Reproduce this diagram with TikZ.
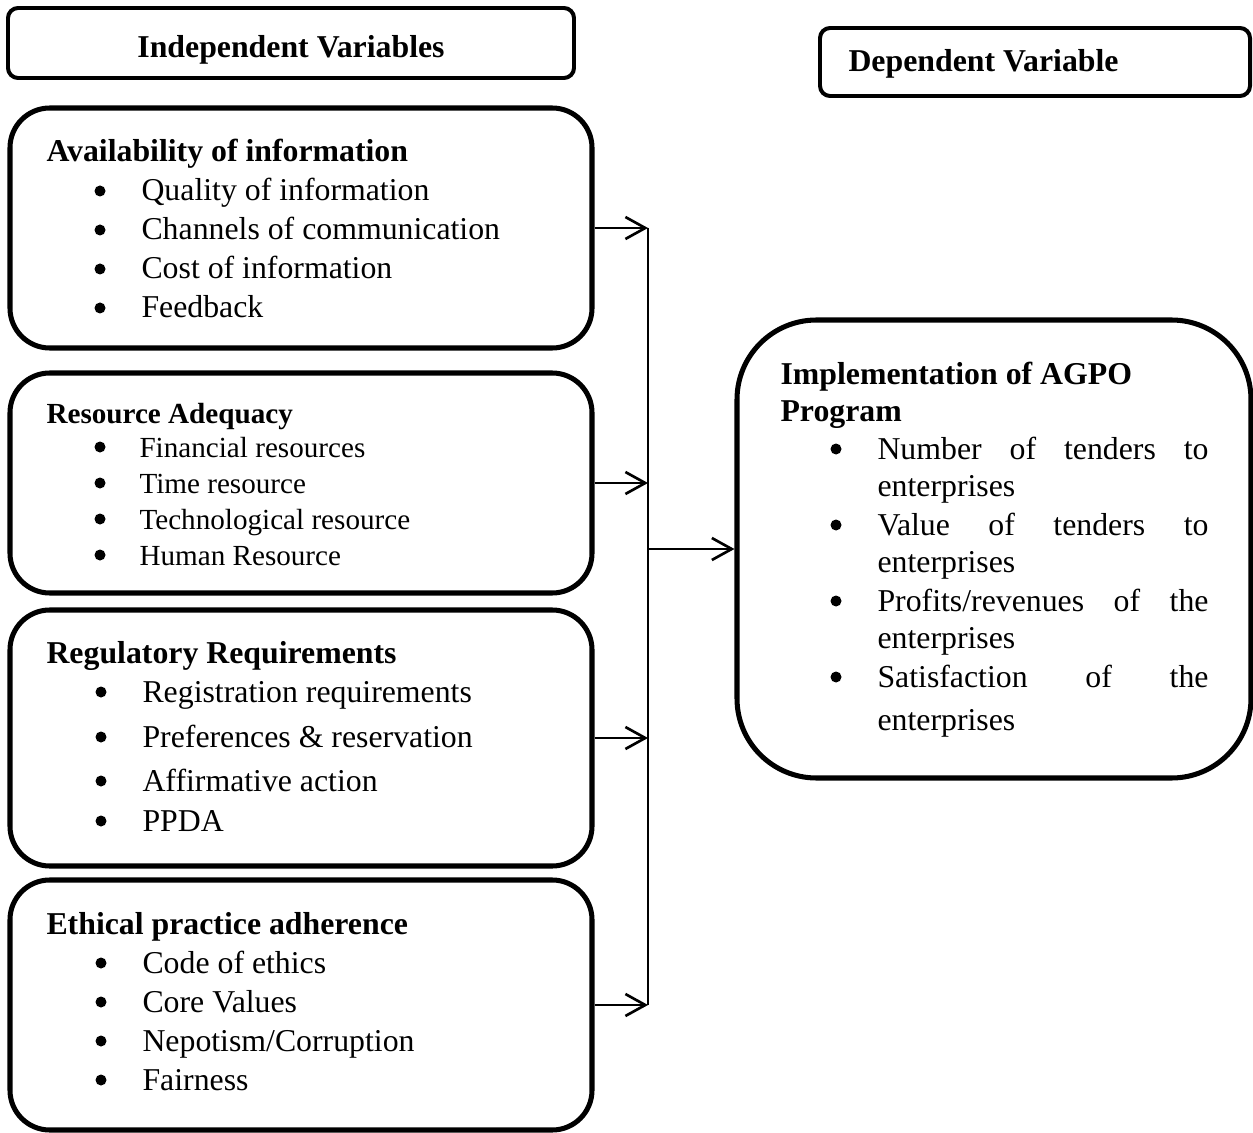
\documentclass[tikz,border=0pt]{standalone}
\usepackage{fontspec}
\setmainfont{Liberation Serif}
\usetikzlibrary{arrows.meta, positioning}

\newlength\px
\setlength\px{0.3774pt}
% bullet + item text at a baseline
\newcommand\bul[5]{%
  \node[dot] (#1b) at (#2,#4-10) {};
  \node[txt] (#1) at (#3,#4) {#5};}

\begin{document}
\begin{tikzpicture}[x=\px, y=-\px, >={Straight Barb[length=7.5pt, width=8.3pt]},
  hdr/.style={draw, line width=1.5pt, rounded corners=3.8pt, inner sep=0pt},
  ivbox/.style={draw, line width=1.9pt, rounded corners=15pt, minimum width=582\px, inner sep=0pt},
  dvbox/.style={draw, line width=1.9pt, rounded corners=30pt, inner sep=0pt},
  txt/.style={anchor=base west, inner sep=0pt, font=\fontsize{12}{14}\selectfont},
  ttl/.style={txt, font=\fontsize{12}{14}\selectfont\bfseries},
  ttls/.style={txt, font=\fontsize{11}{13}\selectfont\bfseries},
  dot/.style={circle, fill, inner sep=0pt, minimum size=11\px},
  link/.style={->, line width=1pt},
  every node/.style={font=\fontsize{12}{14}\selectfont}]
  \useasboundingbox (0,0) rectangle (1253,1133);

  % Headers
  \node[hdr, minimum width=566\px, minimum height=70\px] (ivhead) at (291,43) {};
  \node[ttl, anchor=base] (ivtitle) at (291,58) {Independent Variables};
  \node[hdr, minimum width=430\px, minimum height=68\px] (dvhead) at (1035,62) {};
  \node[ttl] (dvtitle) at (848,72) {Dependent Variable};

  % Availability of information
  \node[ivbox, minimum height=240\px] (info) at (301,228) {};
  \node[ttl] (infot) at (46,162) {Availability of information};
  \bul{i1}{100}{141}{201}{Quality of information}
  \bul{i2}{100}{141}{240}{Channels of communication}
  \bul{i3}{100}{141}{279}{Cost of information}
  \bul{i4}{100}{141}{318}{Feedback}

  % Resource Adequacy
  \node[ivbox, minimum height=220\px] (res) at (301,483) {};
  \node[ttls] (rest) at (46,423) {Resource Adequacy};
  \bul{r1}{100}{139}{457}{\fontsize{11}{13}\selectfont Financial resources}
  \bul{r2}{100}{139}{493}{\fontsize{11}{13}\selectfont Time resource}
  \bul{r3}{100}{139}{529}{\fontsize{11}{13}\selectfont Technological resource}
  \bul{r4}{100}{139}{565}{\fontsize{11}{13}\selectfont Human Resource}

  % Regulatory Requirements
  \node[ivbox, minimum height=256\px] (reg) at (301,738) {};
  \node[ttl] (regt) at (46,663) {Regulatory Requirements};
  \bul{g1}{101}{142}{702}{Registration requirements}
  \bul{g2}{101}{142}{747}{Preferences \& reservation}
  \bul{g3}{101}{142}{791}{Affirmative action}
  \bul{g4}{101}{142}{831}{PPDA}

  % Ethical practice adherence
  \node[ivbox, minimum height=250\px] (eth) at (301,1005) {};
  \node[ttl] (etht) at (46,934) {Ethical practice adherence};
  \bul{e1}{101}{142}{973}{Code of ethics}
  \bul{e2}{101}{142}{1012}{Core Values}
  \bul{e3}{101}{142}{1051}{Nepotism/Corruption}
  \bul{e4}{101}{142}{1090}{Fairness}

  % Implementation of AGPO Program
  \node[dvbox, minimum width=514\px, minimum height=458\px] (agpo) at (994,549) {};
  \node[ttl] (agpot1) at (780,385) {Implementation of AGPO};
  \node[ttl] (agpot2) at (780,421) {Program};
  \bul{a1}{836}{877}{459}{\makebox[331\px][s]{Number of tenders to}}
  \node[txt] (a1x) at (877,496) {enterprises};
  \bul{a2}{836}{877}{535}{\makebox[331\px][s]{Value of tenders to}}
  \node[txt] (a2x) at (877,572) {enterprises};
  \bul{a3}{836}{877}{611}{\makebox[331\px][s]{Profits/revenues of the}}
  \node[txt] (a3x) at (877,648) {enterprises};
  \bul{a4}{836}{877}{687}{\makebox[331\px][s]{Satisfaction of the}}
  \node[txt] (a4x) at (877,730) {enterprises};

  % Connectors
  \coordinate (bus) at (648,0);
  \draw[line width=0.5pt] (bus |- info.east) -- (bus |- eth.east);
  \foreach \b in {info, res, reg, eth}
    \draw[link] (\b.east) -- (bus |- \b.east);
  \draw[link] (bus |- agpo.west) -- (agpo.west);
\end{tikzpicture}
\end{document}
